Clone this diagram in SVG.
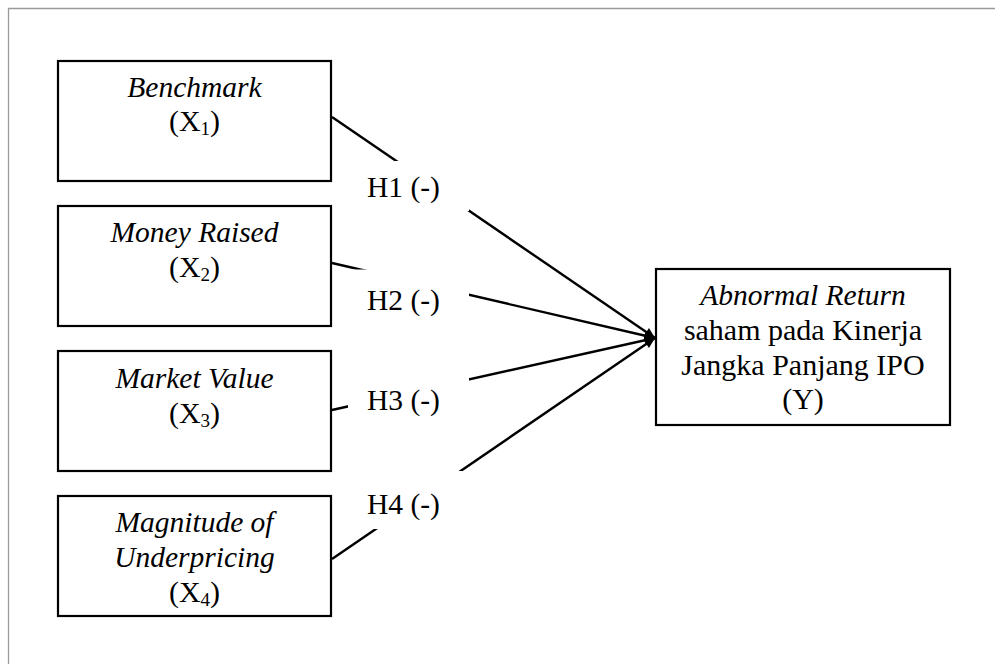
<svg xmlns="http://www.w3.org/2000/svg" width="995" height="664" viewBox="0 0 995 664">
<defs>
<style>
.frame{fill:none;stroke:#9a9a9a;stroke-width:1.3}
.box{fill:#fff;stroke:#000;stroke-width:2.2}
.t{font-family:"Liberation Serif","Times New Roman",serif;font-size:30px;fill:#000;text-anchor:middle}
.i{font-style:italic;font-size:29.5px}
.lbl{font-family:"Liberation Serif","Times New Roman",serif;font-size:29.5px;fill:#000}
.conn{fill:none;stroke:#000;stroke-width:2.4;marker-end:url(#arr)}
.bg{fill:#fff;stroke:none}
</style>
<marker id="arr" viewBox="0 0 10 10" refX="10" refY="5" markerWidth="5" markerHeight="4.4" orient="auto" markerUnits="strokeWidth">
<path d="M0,0.5 L10,5 L0,9.5 z" fill="#000"/>
</marker>
</defs>
<rect width="995" height="664" fill="#fff"/>
<path class="frame" d="M8.5,664 V8.5 H995"/>

<g id="connectors">
<line class="conn" x1="332" y1="117" x2="655" y2="338"/>
<line class="conn" x1="332" y1="263" x2="655" y2="338"/>
<line class="conn" x1="332" y1="410" x2="655" y2="338"/>
<line class="conn" x1="332" y1="559" x2="655" y2="338"/>
</g>

<g id="label-h1">
<rect class="bg" x="362" y="161" width="107" height="50"/>
<text class="lbl" x="367" y="197">H1 (-)</text>
</g>
<g id="label-h2">
<rect class="bg" x="350" y="269.5" width="119" height="50"/>
<text class="lbl" x="367" y="310">H2 (-)</text>
</g>
<g id="label-h3">
<rect class="bg" x="348" y="372" width="121" height="48"/>
<text class="lbl" x="367" y="410">H3 (-)</text>
</g>
<g id="label-h4">
<rect class="bg" x="362" y="471" width="102" height="58"/>
<text class="lbl" x="367" y="514">H4 (-)</text>
</g>

<g id="node-x1">
<rect class="box" x="58" y="61" width="273" height="120"/>
<text class="t i" x="194.5" y="97">Benchmark</text>
<text class="t" x="194.5" y="131">(X<tspan font-size="19" dy="4">1</tspan><tspan dy="-4">)</tspan></text>
</g>
<g id="node-x2">
<rect class="box" x="58" y="206" width="273" height="120"/>
<text class="t i" x="194.5" y="242">Money Raised</text>
<text class="t" x="194.5" y="277">(X<tspan font-size="19" dy="4">2</tspan><tspan dy="-4">)</tspan></text>
</g>
<g id="node-x3">
<rect class="box" x="58" y="351" width="273" height="120"/>
<text class="t i" x="194.5" y="388">Market Value</text>
<text class="t" x="194.5" y="423">(X<tspan font-size="19" dy="4">3</tspan><tspan dy="-4">)</tspan></text>
</g>
<g id="node-x4">
<rect class="box" x="58" y="496" width="273" height="120"/>
<text class="t i" x="194.5" y="532">Magnitude of</text>
<text class="t i" x="194.5" y="567">Underpricing</text>
<text class="t" x="194.5" y="602">(X<tspan font-size="19" dy="4">4</tspan><tspan dy="-4">)</tspan></text>
</g>
<g id="node-y">
<rect class="box" x="656" y="269" width="294" height="156"/>
<text class="t i" x="803" y="305">Abnormal Return</text>
<text class="t" x="803" y="340">saham pada Kinerja</text>
<text class="t" x="803" y="375">Jangka Panjang IPO</text>
<text class="t" x="803" y="409">(Y)</text>
</g>
</svg>
